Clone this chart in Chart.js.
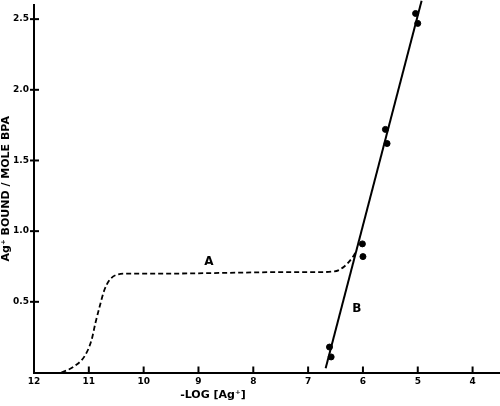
<!DOCTYPE html>
<html lang="en">
<head>
  <meta charset="UTF-8">
  <title>Ag+ binding</title>
  <script src="https://cdn.jsdelivr.net/npm/chart.js"></script>
  <style>
    body {
      margin: 0;
      background-color: #fff;
    }
    #wrap {
      width: 500px;
      height: 406px;
    }
  </style>
</head>
<body>
  <div id="wrap">
    <canvas id="bindChart" width="500" height="406"></canvas>
  </div>

  <script>
    // curve A (dashed)
    const curveAX = [11.5, 11.28, 11.07, 10.95, 10.88, 10.80, 10.72, 10.62, 10.46, 10.31, 9.5, 8.5, 7.5, 6.9, 6.52, 6.34, 6.18, 6.12];
    const curveAY = [0.0, 0.04, 0.12, 0.23, 0.35, 0.47, 0.58, 0.655, 0.695, 0.70, 0.70, 0.705, 0.71, 0.71, 0.715, 0.75, 0.82, 0.86];

    // line B (fitted, solid)
    const lineBX = [6.68, 4.93];
    const lineBY = [0.03, 2.63];

    // measured points
    const pointsX = [6.01, 6.00, 6.61, 6.58, 5.04, 5.00, 5.59, 5.56];
    const pointsY = [0.91, 0.82, 0.18, 0.11, 2.54, 2.47, 1.72, 1.62];

    // axes
    const xTicks = [12, 11, 10, 9, 8, 7, 6, 5, 4];
    const yTicks = [0.5, 1.0, 1.5, 2.0, 2.5];
    const curveLabels = [
      { text: 'A', x: 8.81, y: 0.785 },
      { text: 'B', x: 6.11, y: 0.45 }
    ];

    const toXY = (xs, ys) => xs.map((x, i) => ({ x: x, y: ys[i] }));
    const FONT = 'DejaVu Sans';

    // tick marks drawn inward + curve letters + x title
    const extras = {
      id: 'extras',
      afterDraw(chart) {
        const c = chart.ctx;
        const xs = chart.scales.x, ys = chart.scales.y;
        const area = chart.chartArea;
        c.save();
        c.strokeStyle = '#000';
        c.lineWidth = 2;
        xTicks.forEach(v => {
          if (v === 12) return;
          const px = xs.getPixelForValue(v);
          c.beginPath();
          c.moveTo(px, area.bottom);
          c.lineTo(px, area.bottom - 6);
          c.stroke();
        });
        yTicks.forEach(v => {
          const py = ys.getPixelForValue(v);
          c.beginPath();
          c.moveTo(area.left - 4, py);
          c.lineTo(area.left + 5, py);
          c.stroke();
        });

        c.fillStyle = '#000';
        c.font = 'bold 12px "' + FONT + '"';
        c.textAlign = 'center';
        c.textBaseline = 'middle';
        curveLabels.forEach(l => {
          c.fillText(l.text, xs.getPixelForValue(l.x), ys.getPixelForValue(l.y));
        });

        c.font = 'bold 11px "' + FONT + '"';
        c.fillText('-LOG [Ag\u207A]', 213, 395);
        c.restore();
      }
    };

    // keep the plot box where the figure has it
    function noEdgePadding(s) {
      s.paddingLeft = 0;
      s.paddingRight = 0;
      s.paddingTop = 0;
      s.paddingBottom = 0;
    }

    let ctx = document.getElementById('bindChart').getContext('2d');
    let bindChart = new Chart(ctx, {
      type: 'scatter',
      data: {
        datasets: [
          {
            label: 'A',
            data: toXY(curveAX, curveAY),
            showLine: true,
            borderColor: '#000',
            borderWidth: 1.8,
            borderDash: [5, 3],
            pointRadius: 0,
            cubicInterpolationMode: 'monotone'
          },
          {
            label: 'B',
            data: toXY(lineBX, lineBY),
            showLine: true,
            borderColor: '#000',
            borderWidth: 2,
            pointRadius: 0,
            clip: false
          },
          {
            label: 'points',
            data: toXY(pointsX, pointsY),
            backgroundColor: '#000',
            borderColor: '#000',
            pointRadius: 3
          }
        ]
      },
      options: {
        responsive: false,
        animation: false,
        layout: { autoPadding: false, padding: { top: 5, right: 0, left: 0, bottom: 0 } },
        plugins: {
          legend: { display: false },
          tooltip: { enabled: false }
        },
        scales: {
          x: {
            type: 'linear',
            reverse: true,
            min: 3.5,
            max: 12,
            afterFit: s => { s.height = 33.5; noEdgePadding(s); },
            afterBuildTicks: s => { s.ticks = xTicks.map(v => ({ value: v })); },
            grid: { display: false, drawTicks: false },
            border: { color: '#000', width: 2 },
            ticks: {
              padding: 4,
              color: '#000',
              font: { family: FONT, size: 9, weight: 'bold' },
              maxRotation: 0,
              autoSkip: false,
              callback: v => String(v)
            }
          },
          y: {
            min: 0,
            max: 2.6,
            afterFit: s => { s.width = 34; noEdgePadding(s); },
            afterBuildTicks: s => { s.ticks = yTicks.map(v => ({ value: v })); },
            grid: { display: false, drawTicks: false },
            border: { color: '#000', width: 2 },
            title: {
              display: true,
              text: 'Ag\u207A BOUND / MOLE BPA',
              color: '#000',
              font: { family: FONT, size: 11, weight: 'bold' },
              padding: 0
            },
            ticks: {
              padding: 5,
              color: '#000',
              font: { family: FONT, size: 9, weight: 'bold' },
              autoSkip: false,
              callback: v => v.toFixed(1)
            }
          }
        }
      },
      plugins: [extras]
    });
  </script>
</body>
</html>
